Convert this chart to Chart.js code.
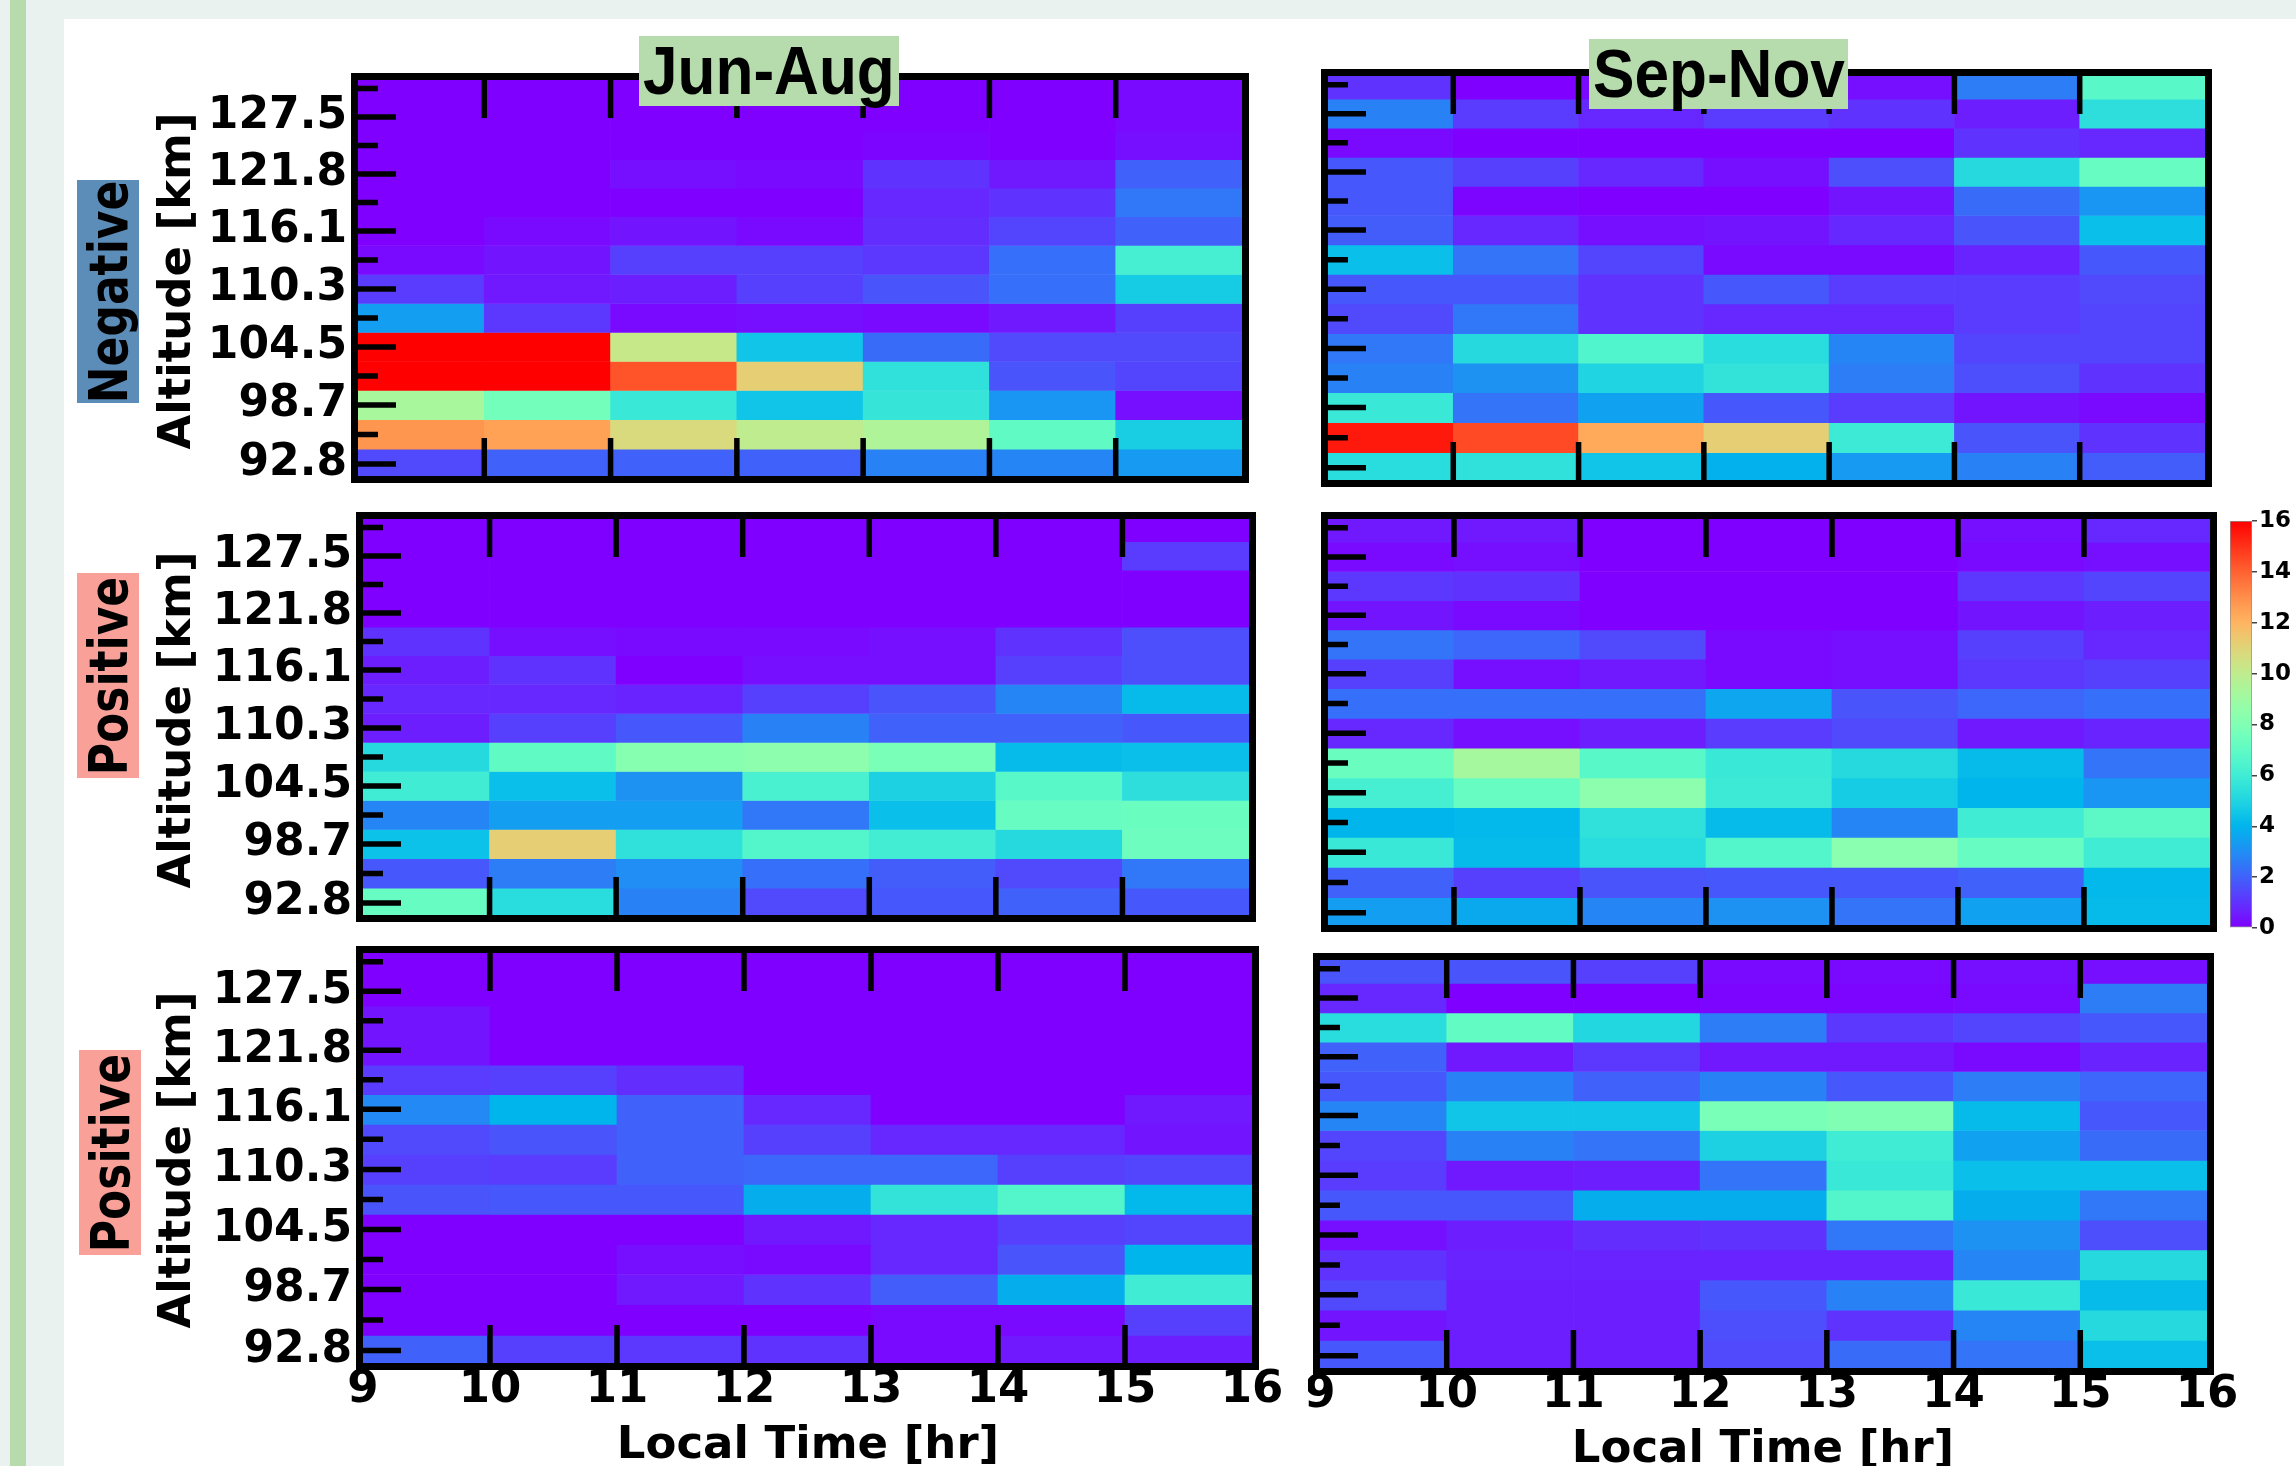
<!DOCTYPE html>
<html><head><meta charset="utf-8">
<script src="https://cdn.jsdelivr.net/npm/chart.js@4.4.1/dist/chart.umd.min.js"></script>
<style>
html,body{margin:0;padding:0;}
body{width:2296px;height:1466px;position:relative;overflow:hidden;background:#fff;font-family:'DejaVu Sans',sans-serif;}
.abs{position:absolute;}
canvas{position:absolute;}
.txt{position:absolute;white-space:nowrap;font-weight:bold;color:#000;font-family:'DejaVu Sans',sans-serif;}
</style></head><body>
<div class="abs" style="left:0;top:0;width:2296px;height:19px;background:#e9f2ef"></div>
<div class="abs" style="left:0;top:0;width:64px;height:1466px;background:#e9f2ef"></div>
<div class="abs" style="left:10px;top:0;width:16px;height:1466px;background:#b7dbad"></div>
<script>
// ---------------- DATA ----------------
const ALTITUDE_KM = [130.35, 127.5, 124.65, 121.8, 118.95, 116.1, 113.2, 110.3, 107.4, 104.5, 101.6, 98.7, 95.75, 92.8];
const Y_TICK_LABELS = ['', '127.5', '', '121.8', '', '116.1', '', '110.3', '', '104.5', '', '98.7', '', '92.8'];
const HOURS = [9, 10, 11, 12, 13, 14, 15, 16];
const COLOR_MIN = 0, COLOR_MAX = 16;
const COLORBAR_STEP = 2;

// rows: top (130.35 km) to bottom (92.8 km); columns: 9-10, 10-11, ..., 15-16 LT
const NEG_JUN_AUG = [
  [0,0,0,0,0,0,0.2],
  [0,0,0,0,0,0,0.2],
  [0,0,0,0,0.1,0,0.3],
  [0,0,0.3,0.2,1.0,0.5,2.0],
  [0,0,0,0,0.8,1.0,2.5],
  [0,0.2,0.4,0.2,0.9,1.4,2.0],
  [0.2,0.4,1.3,1.3,1.1,2.3,6.2],
  [1.2,0.5,0.6,1.3,1.7,2.3,4.7],
  [3.4,1.1,0.2,0.3,0.2,0.5,1.3],
  [16,16,10.2,4.5,2.2,1.5,1.5],
  [16,16,14.3,11.2,5.5,1.7,1.4],
  [9.3,7.6,5.8,4.5,5.7,3.2,0.3],
  [12.8,12.5,10.8,10.0,9.5,7.0,4.8],
  [1.5,2.0,2.0,2.0,2.7,2.8,3.3]
];
const NEG_SEP_NOV = [
  [1.0,0,0.2,0.2,0.3,2.6,6.8],
  [2.7,1.2,0.8,1.2,1.0,0.6,5.4],
  [0.2,0,0,0,0,1.0,0.8],
  [1.8,1.3,0.8,0.3,1.6,5.2,7.2],
  [1.8,0.1,0,0,0.4,2.2,3.2],
  [1.9,0.8,0.3,0.4,0.8,1.7,4.3],
  [4.3,2.4,1.4,0.2,0.2,0.7,1.8],
  [1.8,1.8,1.0,1.8,1.2,1.2,1.5],
  [1.5,2.5,1.0,0.8,0.8,1.2,1.4],
  [2.5,5.2,6.5,5.3,2.8,1.4,1.4],
  [2.7,3.1,5.0,5.6,2.6,1.6,1.0],
  [5.8,2.4,3.5,1.8,1.2,0.4,0.2],
  [15.5,14.5,12.3,11.2,5.9,1.7,1.0],
  [5.3,5.5,4.5,3.9,3.3,2.7,1.9]
];
const POS_A_JUN_AUG = [
  [0,0,0,0,0,0,0],
  [0,0,0,0,0,0,1.2],
  [0,0,0,0,0,0,0],
  [0,0,0,0,0,0,0],
  [1.0,0.3,0.2,0.2,0.3,1.0,1.6],
  [0.6,1.0,0,0.3,0.3,1.3,1.6],
  [0.8,0.8,0.7,1.3,1.7,2.8,4.2],
  [0.6,1.3,1.8,2.7,2.0,2.0,1.8],
  [5.2,7.0,8.2,8.4,7.8,4.2,4.3],
  [6.0,4.3,3.1,6.3,4.9,6.8,5.4],
  [2.8,3.4,3.4,2.5,4.3,7.2,7.3],
  [4.4,11.2,5.5,6.6,6.1,5.2,7.4],
  [1.8,2.6,3.0,2.3,1.9,1.5,2.5],
  [7.2,5.3,2.7,1.5,1.8,2.0,1.8]
];
const POS_A_SEP_NOV = [
  [0.5,0.5,0,0,0,0.3,0.8],
  [0.2,0.3,0,0,0,0.2,0.3],
  [1.1,1.0,0,0,0,1.1,1.4],
  [0.4,0.2,0,0,0,0.4,0.6],
  [2.4,2.1,1.5,0.2,0.3,1.3,0.8],
  [1.3,0.3,0.5,0.2,0.3,1.1,1.3],
  [2.3,2.3,2.3,3.6,1.7,2.1,2.3],
  [0.8,0.3,0.6,1.2,1.5,0.5,0.7],
  [7.3,9.2,6.8,5.8,5.2,4.2,2.4],
  [6.2,7.2,8.4,5.9,4.7,4.0,3.2],
  [4.0,4.1,5.5,4.2,2.8,6.0,6.9],
  [5.8,4.2,5.3,6.6,8.3,7.2,6.0],
  [2.0,1.3,1.7,1.8,1.8,2.0,4.1],
  [3.4,3.7,2.8,3.1,2.4,3.5,4.2]
];
const POS_B_JUN_AUG = [
  [0,0,0,0,0,0,0],
  [0,0,0,0,0,0,0],
  [0.4,0,0,0,0,0,0],
  [0.4,0,0,0,0,0,0],
  [1.2,1.3,0.9,0,0,0,0],
  [2.9,4.0,2.0,0.8,0,0,0.5],
  [1.5,1.7,2.0,1.3,0.8,0.8,0.4],
  [1.3,1.2,2.0,2.1,2.1,1.3,1.4],
  [1.7,1.8,1.8,3.8,5.6,6.6,4.1],
  [0,0,0,0.5,0.8,1.3,1.4],
  [0,0,0.3,0.2,0.8,1.7,4.0],
  [0,0,0.5,1.0,1.9,3.8,6.0],
  [0,0,0,0,0.2,0.2,1.3],
  [2.0,1.3,1.1,1.0,0.2,0.5,0.6]
];
const POS_B_SEP_NOV = [
  [1.7,1.7,1.3,0.2,0.2,0.3,0.3],
  [0.8,0,0,0.1,0.1,0.2,2.6],
  [5.3,7.1,5.1,2.6,1.1,1.4,1.8],
  [2.0,0.5,1.1,0.5,0.5,0.2,0.7],
  [1.8,2.7,2.0,2.7,1.8,2.6,2.1],
  [2.8,4.5,4.5,7.8,8.0,4.2,1.8],
  [1.4,2.7,2.4,4.9,6.0,3.5,2.2],
  [1.2,0.5,0.6,2.4,5.8,4.3,4.3],
  [1.8,1.8,3.8,3.8,6.6,3.8,2.5],
  [0.3,0.6,0.9,1.0,2.5,3.1,1.6],
  [1.0,0.7,0.7,0.7,0.7,2.8,5.2],
  [1.5,0.6,0.6,1.8,2.7,5.8,4.2],
  [0.4,0.6,0.6,1.6,1.0,2.8,5.2],
  [1.8,0.6,0.6,1.5,2.2,2.4,4.3]
];

// ---------------- helpers ----------------
const FONT = "'DejaVu Sans', sans-serif";
function rainbow(v) {
  const t = Math.max(0, Math.min(1, (v - COLOR_MIN) / (COLOR_MAX - COLOR_MIN)));
  const r = Math.min(1, Math.abs(2 * t - 0.5));
  const g = Math.sin(Math.PI * t);
  const b = Math.cos(Math.PI * t / 2);
  return `rgb(${Math.round(r*255)},${Math.round(g*255)},${Math.round(b*255)})`;
}
function yLabelFor(v) {
  const i = ALTITUDE_KM.findIndex(a => Math.abs(a - v) < 1e-6);
  return i >= 0 ? Y_TICK_LABELS[i] : '';
}
function rowEdges(i) {
  const n = ALTITUDE_KM.length, a = ALTITUDE_KM[i];
  const up = i === 0 ? a + (a - ALTITUDE_KM[1]) / 2 : (ALTITUDE_KM[i - 1] + a) / 2;
  const lo = i === n - 1 ? a - (ALTITUDE_KM[n - 2] - a) / 2 : (a + ALTITUDE_KM[i + 1]) / 2;
  return [lo, up];
}

const framePlugin = {
  id: 'frame',
  afterDraw(chart) {
    const {ctx, chartArea: a, scales: {x, y}} = chart;
    ctx.save();
    ctx.strokeStyle = '#000';
    ctx.lineCap = 'butt';
    ctx.lineWidth = 5.5;
    ctx.beginPath();
    y.ticks.forEach(t => {
      const py = y.getPixelForValue(t.value);
      const len = yLabelFor(t.value) !== '' ? 38 : 20;
      ctx.moveTo(a.left, py); ctx.lineTo(a.left + len, py);
    });
    HOURS.slice(1, -1).forEach(h => {
      const px = x.getPixelForValue(h);
      ctx.moveTo(px, a.top); ctx.lineTo(px, a.top + 38);
      ctx.moveTo(px, a.bottom); ctx.lineTo(px, a.bottom - 38);
    });
    ctx.stroke();
    ctx.lineWidth = 7;
    ctx.strokeRect(a.left - 3.5, a.top - 3.5, a.width + 7, a.height + 7);
    ctx.restore();
  }
};

function addCanvas(left, top, w, h) {
  const cv = document.createElement('canvas');
  cv.width = w; cv.height = h;
  cv.style.left = left + 'px'; cv.style.top = top + 'px';
  cv.style.width = w + 'px'; cv.style.height = h + 'px';
  document.body.appendChild(cv);
  return cv;
}

function makePanel(p) {
  const padL = p.showY ? 175 : 12, padT = 12, padR = p.showX ? 34 : 12, padB = p.showX ? 72 : 12;
  const W = p.r - p.l + padL + padR, H = p.b - p.t + padT + padB;
  const cv = addCanvas(p.l - padL, p.t - padT, W, H);
  const datasets = ALTITUDE_KM.map((alt, i) => {
    const [lo, up] = rowEdges(i);
    return {
      data: p.values[i].map((v, j) => ({x: (HOURS[j] + HOURS[j + 1]) / 2, y: [lo, up]})),
      backgroundColor: p.values[i].map(v => rainbow(v)),
      borderWidth: 0,
      grouped: false,
      categoryPercentage: 1,
      barPercentage: 1,
      clip: 0
    };
  });
  new Chart(cv, {
    type: 'bar',
    data: {datasets},
    options: {
      responsive: false, animation: false, devicePixelRatio: 1,
      layout: {padding: {top: padT, right: padR, left: 0, bottom: 0}},
      plugins: {legend: {display: false}, tooltip: {enabled: false}},
      scales: {
        x: {
          type: 'linear', min: HOURS[0], max: HOURS[HOURS.length - 1], offset: false,
          afterBuildTicks: s => { s.ticks = HOURS.map(v => ({value: v})); },
          ticks: {display: p.showX, autoSkip: false, maxRotation: 0, padding: 5, color: '#000',
                  font: {family: FONT, size: 45, weight: 'bold', lineHeight: 1}},
          grid: {display: false, drawTicks: false},
          border: {display: false},
          afterFit: s => { s.height = padB; s.paddingLeft = 0; s.paddingRight = 0; }
        },
        y: {
          type: 'linear', min: 91.6, max: 131.2,
          afterBuildTicks: s => { s.ticks = ALTITUDE_KM.slice().sort((a, b) => a - b).map(v => ({value: v})); },
          ticks: {display: true, autoSkip: false, padding: 11, color: '#000',
                  callback: v => p.showY ? yLabelFor(v) : '',
                  font: {family: FONT, size: 44, weight: 'bold', lineHeight: 1}},
          grid: {display: false, drawTicks: false},
          border: {display: false},
          afterFit: s => { s.width = padL; s.paddingTop = 0; s.paddingBottom = 0; }
        }
      }
    },
    plugins: [framePlugin]
  });
}

const PANELS = [
  {values: NEG_JUN_AUG,   l: 358,  t: 80,  r: 1242, b: 476,  showY: true,  showX: false},
  {values: NEG_SEP_NOV,   l: 1328, t: 76,  r: 2205, b: 480,  showY: false, showX: false},
  {values: POS_A_JUN_AUG, l: 363,  t: 519, r: 1249, b: 915,  showY: true,  showX: false},
  {values: POS_A_SEP_NOV, l: 1328, t: 519, r: 2210, b: 925,  showY: false, showX: false},
  {values: POS_B_JUN_AUG, l: 363,  t: 953, r: 1252, b: 1363, showY: true,  showX: true},
  {values: POS_B_SEP_NOV, l: 1320, t: 960, r: 2207, b: 1368, showY: false, showX: true}
];
PANELS.forEach(makePanel);

// ---------------- colorbar ----------------
(function () {
  const cv = addCanvas(2220, 505, 76, 440);
  new Chart(cv, {
    type: 'bar',
    data: {labels: [''], datasets: [{
      data: [[COLOR_MIN, COLOR_MAX]],
      backgroundColor: (c) => {
        const {chart} = c; const area = chart.chartArea;
        if (!area) return rainbow(COLOR_MIN);
        const g = chart.ctx.createLinearGradient(0, area.bottom, 0, area.top);
        for (let k = 0; k <= 32; k++) g.addColorStop(k / 32, rainbow(COLOR_MIN + (COLOR_MAX - COLOR_MIN) * k / 32));
        return g;
      },
      borderWidth: 1, borderColor: 'rgba(70,70,70,0.6)', borderSkipped: false,
      categoryPercentage: 1, barPercentage: 1
    }]},
    options: {
      responsive: false, animation: false, devicePixelRatio: 1,
      layout: {padding: {top: 16, left: 10, right: 0, bottom: 17}},
      plugins: {legend: {display: false}, tooltip: {enabled: false}},
      scales: {
        x: {display: false},
        y: {
          position: 'right', min: COLOR_MIN, max: COLOR_MAX,
          ticks: {stepSize: COLORBAR_STEP, padding: 2, color: '#000',
                  font: {family: FONT, size: 23, weight: 'bold', lineHeight: 1}},
          grid: {display: true, drawOnChartArea: false, drawTicks: true, tickLength: 5, color: '#444', lineWidth: 1.5},
          border: {display: false},
          afterFit: s => { s.width = 44; s.paddingTop = 0; s.paddingBottom = 0; }
        }
      }
    }
  });
})();

// ---------------- text labels ----------------
function addDiv(style, text) {
  const d = document.createElement('div');
  d.className = 'txt';
  d.setAttribute('style', style);
  if (text !== undefined) d.innerHTML = text;
  document.body.appendChild(d);
  return d;
}
// season headings
[['Jun-Aug', 639, 36, 260], ['Sep-Nov', 1589, 39, 259]].forEach(([t, l, tp, w]) => {
  addDiv(`left:${l}px;top:${tp}px;width:${w}px;height:70px;background:#b6dcad;` +
    `display:flex;justify-content:center;` +
    `font-family:'Liberation Sans',Arial,sans-serif;font-size:69px;line-height:70px;`,
    `<span style="display:block;flex:none;transform:scaleX(0.9);">${t}</span>`);
});
// row labels
[['Negative', 77, 180, 223, '#5b8db8'], ['Positive', 77, 573, 205, '#f9a098'], ['Positive', 79, 1050, 205, '#f9a098']]
  .forEach(([t, l, tp, h, c]) => {
    addDiv(`left:${l}px;top:${tp}px;width:62px;height:${h}px;background:${c};`);
    addDiv(`left:${l + 31}px;top:${tp + h / 2}px;font-size:53px;line-height:53px;` +
      `transform:translate(-50%,-50%) rotate(-90deg) scaleX(0.83);`, t);
  });
// axis titles
[281, 720, 1160].forEach(cy => {
  addDiv(`left:174px;top:${cy}px;font-size:45px;line-height:45px;transform:translate(-50%,-50%) rotate(-90deg);`, 'Altitude [km]');
});
[[808, 1420], [1763, 1424]].forEach(([cx, tp]) => {
  addDiv(`left:${cx}px;top:${tp}px;font-size:45px;line-height:45px;transform:translateX(-50%);`, 'Local Time [hr]');
});
</script>
</body></html>
